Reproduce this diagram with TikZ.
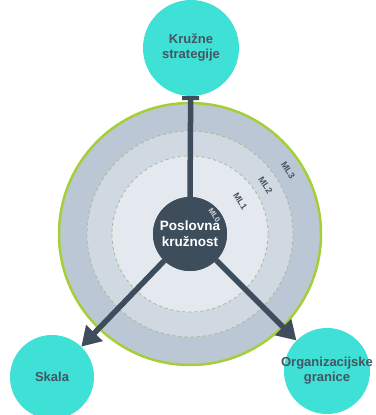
\documentclass[tikz,border=0pt]{standalone}
\usepackage{fontspec}
\setmainfont{Liberation Sans}
\usetikzlibrary{arrows.meta,calc}
\definecolor{tealc}{HTML}{3FE0D6}
\definecolor{slate}{HTML}{3E4D5C}
\definecolor{txt}{HTML}{475462}
\definecolor{lime}{HTML}{A6CE39}
\definecolor{ringA}{HTML}{BCC7D5}
\definecolor{ringB}{HTML}{D0D8E2}
\definecolor{ringC}{HTML}{E4E9EF}
\definecolor{dashc}{HTML}{A9B897}
\tikzset{
  sat/.style={circle,fill=tealc,inner sep=0pt},
  sattext/.style={text=txt,font=\bfseries\fontsize{13}{15}\selectfont,align=center,inner sep=0pt},
  ring/.style={circle,inner sep=0pt},
  mllabel/.style={font=\bfseries\fontsize{9}{10}\selectfont,text=txt,rotate=-57,inner sep=0pt},
  conn/.style={draw=slate,line width=5.5pt},
}
\begin{document}
\begin{tikzpicture}[x=1pt,y=1pt]
\useasboundingbox (0,0) rectangle (375,415);
% rings
\node[ring,draw=lime,line width=2.5pt,fill=ringA,minimum size=262pt] (ml3) at (190,181) {};
\node[ring,draw=dashc,dashed,line width=0.8pt,fill=ringB,minimum size=206pt] (ml2) at (190,181) {};
\node[ring,draw=dashc,dashed,line width=0.8pt,fill=ringC,minimum size=156pt] (ml1) at (190,181) {};
% satellites
\node[sat,minimum size=96pt] (top) at (191,367) {};
\node[sattext] (toplbl) at (top.center) {Kružne\\strategije};
\node[sat,minimum size=84pt] (skala) at (52,38) {};
\node[sattext] (skalalbl) at (skala.center) {Skala};
\node[sat,minimum size=86pt] (org) at (327,44) {};
\node[sattext] (orglbl) at (org.center) {Organizacijske\\granice};
% center
\node[ring,fill=slate,minimum size=74pt] (core) at (190,181) {};
% connectors
\draw[conn,-{Rectangle[length=4pt,width=17pt]}] (core.north) -- (top);
\draw[conn,-{Triangle[width=22pt,length=19pt]}] (core) -- (skala);
\draw[conn,-{Triangle[width=22pt,length=19pt]}] (core) -- (org);
\node[ring,fill=slate,minimum size=74pt,text=white,font=\bfseries\fontsize{13.5}{16}\selectfont,align=center] (corelbl) at (190,181) {Poslovna\\kružnost};
% labels
\node[mllabel] (l3) at ($(core.center)+(33:117)$) {ML3};
\node[mllabel] (l2) at ($(core.center)+(33:90)$) {ML2};
\node[mllabel] (l1) at ($(core.center)+(33:60)$) {ML1};
\node[mllabel,text=ringB,font=\bfseries\fontsize{7.5}{8}\selectfont] (l0) at ($(core.center)+(38:31)$) {ML0};
\end{tikzpicture}
\end{document}
